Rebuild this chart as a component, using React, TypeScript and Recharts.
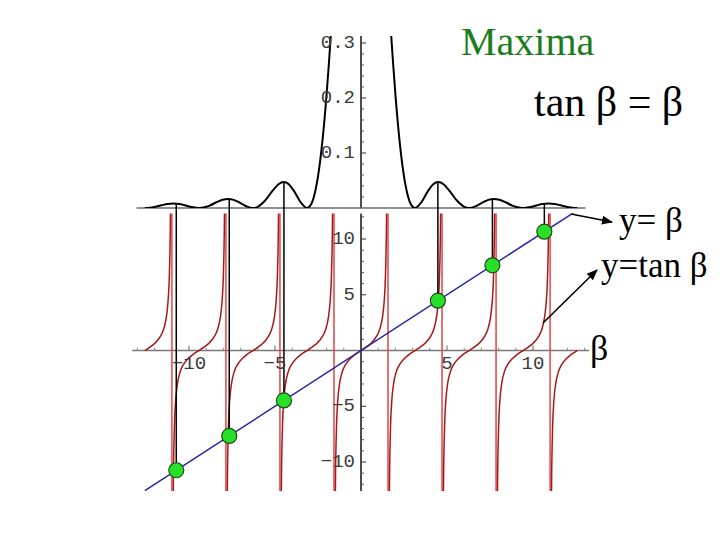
import React from "react";
import {
  ComposedChart,
  Line,
  Scatter,
  XAxis,
  YAxis,
  ReferenceLine,
  ReferenceDot,
} from "recharts";

// single-slit pattern (sin β / β)²
const patternBeta = [
  -12.566, -12.3, -12.0, -11.6, -11.25, -10.904, -10.55, -10.25, -9.85, -9.4248,
  -9.1, -8.8, -8.4, -8.05, -7.725, -7.4, -7.1, -6.7, -6.2832,
  -6.0, -5.6, -5.1, -4.8, -4.493, -4.2, -3.9, -3.5, -3.1416,
  -2.95, -2.7, -2.45, -2.2, -2.0, -1.85, -1.7, -1.5, -1.2, -0.8, 0,
  0.8, 1.2, 1.5, 1.7, 1.85, 2.0, 2.2, 2.45, 2.7, 2.95,
  3.1416, 3.5, 3.9, 4.2, 4.493, 4.8, 5.1, 5.6, 6.0,
  6.2832, 6.7, 7.1, 7.4, 7.725, 8.05, 8.4, 8.8, 9.1,
  9.4248, 9.85, 10.25, 10.55, 10.904, 11.25, 11.6, 12.0, 12.3, 12.566,
];
const patternIntensity = [
  0, 0.0005, 0.002, 0.005, 0.0074, 0.0083, 0.0073, 0.0051, 0.0018, 0,
  0.0012, 0.0044, 0.0104, 0.0149, 0.0165, 0.0148, 0.0105, 0.0037, 0,
  0.0022, 0.0127, 0.033, 0.0431, 0.0472, 0.0431, 0.0311, 0.01, 0,
  0.0042, 0.0251, 0.0678, 0.1351, 0.2067, 0.27, 0.34, 0.442, 0.603, 0.804, 1,
  0.804, 0.603, 0.442, 0.34, 0.27, 0.2067, 0.1351, 0.0678, 0.0251, 0.0042,
  0, 0.01, 0.0311, 0.0431, 0.0472, 0.0431, 0.033, 0.0127, 0.0022,
  0, 0.0037, 0.0105, 0.0148, 0.0165, 0.0149, 0.0104, 0.0044, 0.0012,
  0, 0.0018, 0.0051, 0.0073, 0.0083, 0.0074, 0.005, 0.002, 0.0005, 0,
];

// one branch of y = tan β, offsets from the branch centre
const tanOffsets = [
  -1.555, -1.53, -1.5, -1.47, -1.42, -1.35, -1.25, -1.1, -0.9, -0.6, -0.3, 0,
  0.3, 0.6, 0.9, 1.1, 1.25, 1.35, 1.42, 1.47, 1.5, 1.53, 1.555,
];
const tanValues = [
  -63.66, -24.5, -14.1, -9.97, -6.58, -4.46, -3.01, -1.96, -1.26, -0.684, -0.309, 0,
  0.309, 0.684, 1.26, 1.96, 3.01, 4.46, 6.58, 9.97, 14.1, 24.5, 63.66,
];
const branchCenters = [-12.566, -9.425, -6.283, -3.1416, 0, 3.1416, 6.283, 9.425, 12.566];
const asymptotes = [-10.9956, -7.854, -4.7124, -1.5708, 1.5708, 4.7124, 7.854, 10.9956];

// y = β
const lineBeta = [-12.566, 12.566];

// marked maxima (green dots) and side-lobe peak heights
const maximaBeta = [-10.74, -7.66, -4.48, 4.47, 7.64, 10.66];
const peakHeights = [0.0083, 0.0165, 0.047, 0.047, 0.0165, 0.0083];

// ticks
const topYLabels = [0.1, 0.2, 0.3];
const topYMinor = [0.02, 0.04, 0.06, 0.08, 0.12, 0.14, 0.16, 0.18, 0.22, 0.24, 0.26, 0.28];
const xLabels = [-10, -5, 5, 10];
const xMinor = [-13, -12, -11, -9, -8, -7, -6, -4, -3, -2, -1, 1, 2, 3, 4, 6, 7, 8, 9, 11, 12, 13];
const yLabels = [-10, -5, 5, 10];
const yMinor = [-12, -11, -9, -8, -7, -6, -4, -3, -2, -1, 1, 2, 3, 4, 6, 7, 8, 9, 11, 12];

const X_DOMAIN: [number, number] = [-13.5, 13.5];
const fmt = (v: number) => (v < 0 ? "\u2212" + Math.abs(v) : String(v));

const patternData = patternBeta.map((b, i) => ({ x: b, y: patternIntensity[i] }));
const tanBranches = branchCenters.map((c) =>
  tanOffsets
    .map((d, i) => ({ x: c + d, y: tanValues[i] }))
    .filter((p) => p.x >= -12.57 && p.x <= 12.57)
);
const lineData = lineBeta.map((b) => ({ x: b, y: b }));
const dotData = maximaBeta.map((b) => ({ x: b, y: b }));

// tick label drawn next to a zero-size reference dot
function tickLabel(text: string, side: "left" | "below") {
  return (props: any) => {
    const vb = props.viewBox || {};
    const x = side === "left" ? vb.x - 6 : vb.x;
    const y = side === "left" ? vb.y : vb.y + 13;
    return (
      <text
        x={x}
        y={y}
        textAnchor={side === "left" ? "end" : "middle"}
        dominantBaseline="central"
        fill="#3a3a3a"
        fontSize={19}
        fontFamily="'Liberation Mono', monospace"
      >
        {text}
      </text>
    );
  };
}

function GreenDot(props: any) {
  const { cx, cy } = props;
  return <circle cx={cx} cy={cy} r={7.5} fill="#27e027" stroke="#1d4d1d" strokeWidth={1.2} />;
}

function PatternChart() {
  return (
    <ComposedChart width={720} height={540} margin={{ top: 36, right: 126.8, bottom: 332, left: 128.8 }}>
      <XAxis type="number" dataKey="x" domain={X_DOMAIN} hide allowDataOverflow />
      <YAxis type="number" dataKey="y" domain={[0, 0.3127]} hide allowDataOverflow />
      <ReferenceLine x={0} stroke="#000" strokeWidth={1.4} />
      <ReferenceLine segment={[{ x: -13.05, y: 0 }, { x: 13.05, y: 0 }]} stroke="#6a6a6a" strokeWidth={1.6} />
      {topYMinor.map((v) => (
        <ReferenceLine key={"m" + v} segment={[{ x: 0, y: v }, { x: 0.17, y: v }]} stroke="#555" />
      ))}
      {topYLabels.map((v) => (
        <ReferenceLine key={"t" + v} segment={[{ x: 0, y: v }, { x: 0.3, y: v }]} stroke="#333" />
      ))}
      {topYLabels.map((v) => (
        <ReferenceDot key={"l" + v} x={0} y={v} r={0} fill="none" stroke="none" label={tickLabel(v.toFixed(1), "left")} />
      ))}
      {maximaBeta.map((b, i) => (
        <ReferenceLine key={"p" + b} segment={[{ x: b, y: peakHeights[i] }, { x: b, y: 0 }]} stroke="#000" strokeWidth={1.5} />
      ))}
      <Line data={patternData} dataKey="y" type="monotone" stroke="#000" strokeWidth={2} dot={false} isAnimationActive={false} />
    </ComposedChart>
  );
}

function TanChart() {
  return (
    <ComposedChart width={720} height={540} margin={{ top: 213.4, right: 126.8, bottom: 49, left: 128.8 }}>
      <XAxis type="number" dataKey="x" domain={X_DOMAIN} hide allowDataOverflow />
      <YAxis type="number" dataKey="y" domain={[-12.6, 12.3]} hide allowDataOverflow />
      <ReferenceLine x={0} stroke="#000" strokeWidth={1.4} />
      <ReferenceLine segment={[{ x: -13.3, y: 0 }, { x: 13.25, y: 0 }]} stroke="#777" strokeWidth={1.5} />
      {xMinor.map((v) => (
        <ReferenceLine key={"xm" + v} segment={[{ x: v, y: 0 }, { x: v, y: 0.25 }]} stroke="#888" />
      ))}
      {xLabels.map((v) => (
        <ReferenceLine key={"xt" + v} segment={[{ x: v, y: 0 }, { x: v, y: 0.45 }]} stroke="#666" />
      ))}
      {yMinor.map((v) => (
        <ReferenceLine key={"ym" + v} segment={[{ x: 0, y: v }, { x: 0.17, y: v }]} stroke="#555" />
      ))}
      {yLabels.map((v) => (
        <ReferenceLine key={"yt" + v} segment={[{ x: 0, y: v }, { x: 0.3, y: v }]} stroke="#333" />
      ))}
      {xLabels.map((v) => (
        <ReferenceDot key={"xl" + v} x={v} y={0} r={0} fill="none" stroke="none" label={tickLabel(fmt(v), "below")} />
      ))}
      {yLabels.map((v) => (
        <ReferenceDot key={"yl" + v} x={0} y={v} r={0} fill="none" stroke="none" label={tickLabel(fmt(v), "left")} />
      ))}
      {asymptotes.map((a) => (
        <ReferenceLine key={"a" + a} x={a} stroke="#e04848" strokeWidth={1.8} strokeOpacity={0.85} />
      ))}
      {tanBranches.map((br, i) => (
        <Line
          key={"b" + i}
          data={br}
          dataKey="y"
          type="monotone"
          stroke="#a81818"
          strokeWidth={1.5}
          dot={false}
          isAnimationActive={false}
        />
      ))}
      <Line data={lineData} dataKey="y" type="linear" stroke="#2626a6" strokeWidth={1.5} dot={false} isAnimationActive={false} />
      {maximaBeta.map((b) => (
        <ReferenceLine
          key={"d" + b}
          segment={[{ x: b, y: 12.8 }, { x: b, y: b }]}
          ifOverflow="visible"
          stroke="#000"
          strokeWidth={1.5}
        />
      ))}
      <Scatter data={dotData} dataKey="y" shape={<GreenDot />} isAnimationActive={false} />
    </ComposedChart>
  );
}

const serif = "'Liberation Serif', 'Times New Roman', serif";

export default function App() {
  return (
    <div style={{ position: "absolute", left: 0, top: 0, width: 720, height: 540, background: "#fff", overflow: "hidden" }}>
      <div style={{ position: "absolute", left: 0, top: 0 }}>
        <PatternChart />
      </div>
      <div style={{ position: "absolute", left: 0, top: 0 }}>
        <TanChart />
      </div>
      <svg width={720} height={540} style={{ position: "absolute", left: 0, top: 0, pointerEvents: "none" }}>
        <defs>
          <marker id="arrow" viewBox="0 0 10 10" refX="9" refY="5" markerWidth="7" markerHeight="7" orient="auto">
            <path d="M0,1 L10,5 L0,9 z" fill="#000" />
          </marker>
        </defs>
        <line x1={571} y1={214} x2={612} y2={222} stroke="#000" strokeWidth={1.6} markerEnd="url(#arrow)" />
        <line x1={543} y1={323} x2={597} y2={270} stroke="#000" strokeWidth={1.6} markerEnd="url(#arrow)" />
      </svg>
      <div style={{ position: "absolute", left: 461, top: 22, fontFamily: serif, fontSize: 40, color: "#1b7d1b", lineHeight: 1 }}>
        Maxima
      </div>
      <div style={{ position: "absolute", left: 534, top: 81, fontFamily: serif, fontSize: 42, color: "#000", lineHeight: 1, whiteSpace: "nowrap" }}>
        tan β = β
      </div>
      <div style={{ position: "absolute", left: 619, top: 203, fontFamily: serif, fontSize: 35, color: "#000", lineHeight: 1, whiteSpace: "nowrap" }}>
        y= β
      </div>
      <div style={{ position: "absolute", left: 601, top: 248, fontFamily: serif, fontSize: 35, color: "#000", lineHeight: 1, whiteSpace: "nowrap" }}>
        y=tan β
      </div>
      <div style={{ position: "absolute", left: 590, top: 330, fontFamily: serif, fontSize: 36, color: "#000", lineHeight: 1 }}>
        β
      </div>
    </div>
  );
}
